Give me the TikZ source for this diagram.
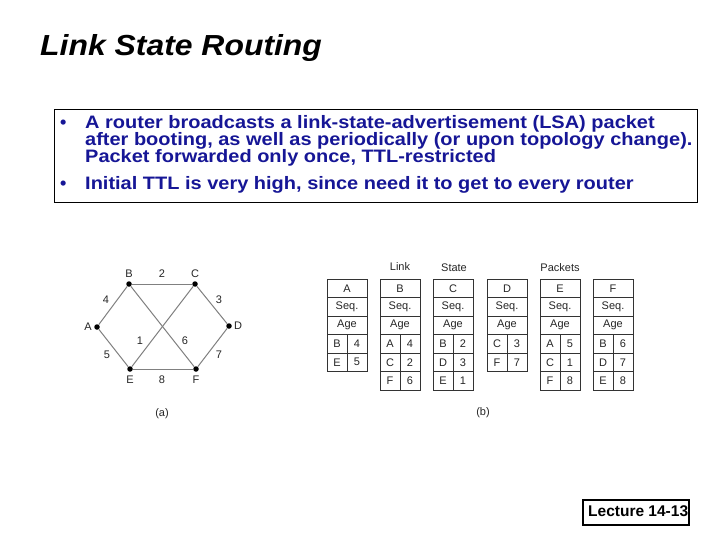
\documentclass[tikz,border=0pt]{standalone}
\usepackage{fontspec}
\setmainfont{Liberation Sans}
\definecolor{bullblue}{RGB}{22,22,150}
\begin{document}
\begin{tikzpicture}[x=1pt,y=-1pt,
  txt/.style={anchor=base west, inner sep=0, text=bullblue, font=\fontsize{18}{20}\selectfont\bfseries},
  dot/.style={circle, fill=black, inner sep=0, minimum size=5.5},
  edge/.style={draw=black!50, line width=1},
  glab/.style={inner sep=0, font=\fontsize{11}{13}\selectfont, text=black!85},
  hcell/.style={draw=black!80, line width=0.9, minimum width=40, minimum height=18.5, inner sep=0, font=\fontsize{11}{13}\selectfont, text=black!85},
  dcell/.style={draw=black!80, line width=0.9, minimum width=20, minimum height=18.5, inner sep=0, font=\fontsize{11}{13}\selectfont, text=black!85}]
\useasboundingbox (0,0) rectangle (720,540);
\fill[white] (0,0) rectangle (720,540);
% title
\node[anchor=base west, inner sep=0, font=\fontsize{29}{32}\selectfont\bfseries\itshape] (title) at (40,56) {\scalebox{1.1}[1]{Link State Routing}};
% bullet box
\node[draw, line width=1, minimum width=643, minimum height=93, anchor=north west, inner sep=0] (box) at (54,109) {};
\node[txt] (b1) at (60,128.5) {\textbullet};
\node[txt] (l1) at (85,128.5) {\scalebox{1.11}[1]{A router broadcasts a link-state-advertisement (LSA) packet}};
\node[txt] (l2) at (85,145.5) {\scalebox{1.11}[1]{after booting, as well as periodically (or upon topology change).}};
\node[txt] (l3) at (85,162.5) {\scalebox{1.11}[1]{Packet forwarded only once, TTL-restricted}};
\node[txt] (b2) at (60,190) {\textbullet};
\node[txt] (l4) at (85,190) {\scalebox{1.11}[1]{Initial TTL is very high, since need it to get to every router}};
% graph (a)
\foreach \n/\x/\y in {A/97/327, B/129/284, C/195/284, D/229/326, E/130/369, F/196/369}
  \node[dot] (\n) at (\x,\y) {};
\foreach \u/\v in {A/B, A/E, B/C, B/F, C/E, C/D, D/F, E/F}
  \draw[edge] (\u) -- (\v);
\foreach \n/\x/\y/\t in {lA/88/327/A, lB/129/274/B, lC/195/274/C, lD/238/326/D, lE/130/380/E, lF/196/380/F,
  w2/162/274/2, w4/106/300/4, w3/219/300/3, w1/140/341/1, w6/185/341/6, w5/107/355/5, w7/219/355/7, w8/162/380/8,
  capa/162/414/(a)}
  \node[glab] (\n) at (\x,\y) {\t};
% tables (b)
\foreach \nm/\L/\entries in {A/327/{B/4,E/5}, B/380/{A/4,C/2,F/6}, C/433/{B/2,D/3,E/1},
    D/487/{C/3,F/7}, E/540/{A/5,C/1,F/8}, F/593/{B/6,D/7,E/8}} {
  \node[hcell] (h\nm) at (\L+20,288.25) {\nm};
  \node[hcell] (s\nm) at (\L+20,306.75) {Seq.};
  \node[hcell] (g\nm) at (\L+20,325.25) {Age};
  \foreach \a/\b [count=\i] in \entries {
    \node[dcell] (k\nm\i) at (\L+10,343.75+18.5*\i-18.5) {\a};
    \node[dcell] (v\nm\i) at (\L+30,343.75+18.5*\i-18.5) {\b};
  }
}
\node[glab] (link) at (400,267) {Link};
\node[glab] (state) at (454,268) {State};
\node[glab] (pack) at (560,268) {Packets};
\node[glab] (capb) at (483,413) {(b)};
% lecture box
\node[draw, line width=1.5, anchor=north west, minimum width=106, minimum height=25, inner sep=0] (lbox) at (582,499) {};
\node[anchor=base west, inner sep=0, font=\fontsize{15.5}{18}\selectfont\bfseries] (lec) at (588,516.5) {Lecture 14-13};
\end{tikzpicture}
\end{document}
